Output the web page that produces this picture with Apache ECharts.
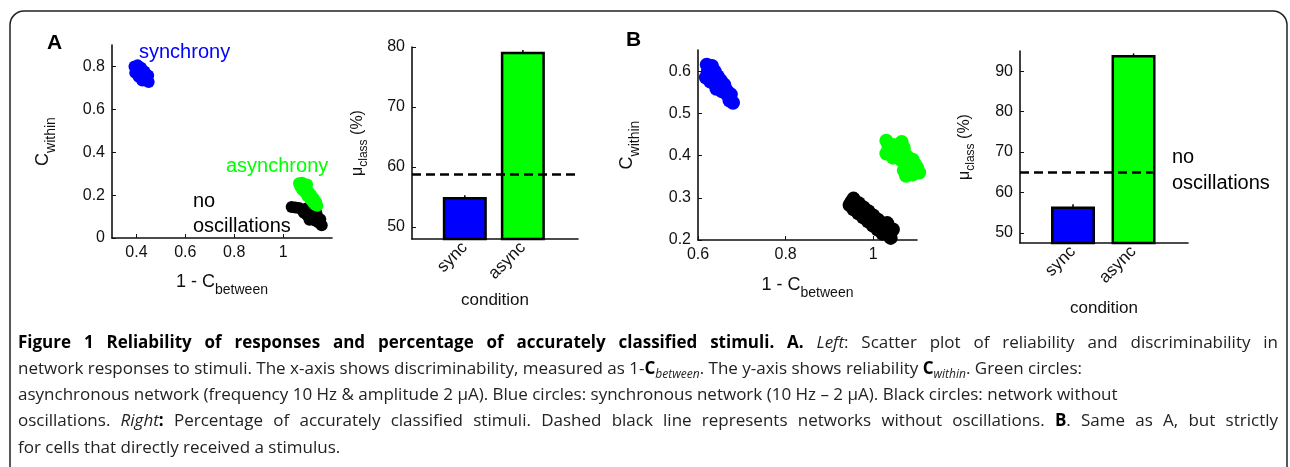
<!DOCTYPE html>
<html>
<head>
<meta charset="utf-8">
<script src="https://cdn.jsdelivr.net/npm/echarts@6/dist/echarts.min.js"></script>
<style>
  html, body { margin: 0; padding: 0; background: #fff; }
  #chart { width: 1290px; height: 467px; }
</style>
</head>
<body>
<div id="chart"></div>
<script>
// ---- data ----
// panel A scatter, points are [1 - C_between, C_within]
const syncA = [[0.392, 0.800], [0.405, 0.805], [0.400, 0.788], [0.407, 0.782], [0.419, 0.794],
  [0.395, 0.770], [0.421, 0.764], [0.433, 0.776], [0.409, 0.752], [0.436, 0.746],
  [0.448, 0.758], [0.424, 0.734], [0.450, 0.728], [0.415, 0.780], [0.430, 0.758]]
const asyncA = [[1.065, 0.255], [1.078, 0.258], [1.070, 0.240], [1.085, 0.245], [1.078, 0.225],
  [1.095, 0.230], [1.090, 0.212], [1.105, 0.215], [1.100, 0.195], [1.115, 0.200],
  [1.112, 0.180], [1.125, 0.185], [1.122, 0.165], [1.135, 0.168], [1.140, 0.150],
  [1.130, 0.155], [1.098, 0.250]]
const noOscA = [[1.035, 0.145], [1.050, 0.142], [1.065, 0.140], [1.078, 0.132], [1.085, 0.118],
  [1.095, 0.128], [1.100, 0.105], [1.110, 0.125], [1.115, 0.095], [1.125, 0.115],
  [1.130, 0.082], [1.140, 0.100], [1.145, 0.072], [1.152, 0.088], [1.158, 0.060],
  [1.120, 0.130], [1.135, 0.120], [1.095, 0.138], [1.108, 0.085]]

// panel B scatter
const syncB = [[0.620, 0.615], [0.632, 0.612], [0.622, 0.598], [0.638, 0.600], [0.618, 0.585],
  [0.630, 0.585], [0.645, 0.588], [0.652, 0.578], [0.638, 0.572], [0.648, 0.565],
  [0.660, 0.568], [0.655, 0.552], [0.665, 0.555], [0.668, 0.542], [0.675, 0.545],
  [0.672, 0.530], [0.680, 0.525], [0.628, 0.575], [0.642, 0.558]]
const asyncB = [[1.030, 0.435], [1.035, 0.420], [1.030, 0.405], [1.045, 0.410], [1.065, 0.432],
  [1.070, 0.418], [1.055, 0.395], [1.065, 0.388], [1.075, 0.400], [1.080, 0.380],
  [1.070, 0.365], [1.085, 0.360], [1.100, 0.372], [1.105, 0.360], [1.090, 0.390],
  [1.075, 0.352], [1.045, 0.425], [1.045, 0.395], [1.055, 0.410], [1.060, 0.400],
  [1.085, 0.375], [1.095, 0.380], [1.080, 0.395], [1.090, 0.355]]
const noOscB = [[0.950, 0.290], [0.955, 0.298], [0.946, 0.283], [0.961, 0.280], [0.967, 0.287],
  [0.955, 0.273], [0.972, 0.270], [0.978, 0.277], [0.966, 0.263], [0.983, 0.261],
  [0.989, 0.268], [0.977, 0.254], [0.994, 0.251], [1.000, 0.258], [0.988, 0.244],
  [1.005, 0.241], [1.011, 0.248], [0.999, 0.234], [1.016, 0.232], [1.022, 0.239],
  [1.010, 0.225], [1.027, 0.222], [1.033, 0.229], [1.021, 0.215], [1.038, 0.212],
  [1.040, 0.205], [1.045, 0.225], [1.032, 0.240]]

// bar panels: mu_class (%) per condition
const conditions = ['sync', 'async']
const barPos = [1, 2]
const accA = [55.0, 79.2]
const errA = [0.3, 0.3]
const accB = [56.5, 94.0]
const errB = [0.6, 0.4]
// dashed "no oscillations" level and how far it runs along the x axis
const noOscLevelA = 58.8
const noOscLevelB = 65.0
const noOscSpanA = [0.09, 2.95]
const noOscSpanB = [0.124, 2.39]

// tick values
const scatterXTicksA = [0.4, 0.6, 0.8, 1]
const scatterYTicksA = [0, 0.2, 0.4, 0.6, 0.8]
const scatterXTicksB = [0.6, 0.8, 1]
const scatterYTicksB = [0.2, 0.3, 0.4, 0.5, 0.6]
const barYTicksA = [50, 60, 70, 80]
const barYTicksB = [50, 60, 70, 80, 90]

// caption, as [style, text] runs; n normal, b bold, i italic, s italic subscript
const captionLines = [
  [['b', 'Figure 1 Reliability of responses and percentage of accurately classified stimuli. A.'], ['n', ' '],
    ['i', 'Left'], ['n', ': Scatter plot of reliability and discriminability in']],
  [['n', 'network responses to stimuli. The x-axis shows discriminability, measured as 1-'], ['b', 'C'], ['s', 'between'],
    ['n', '. The y-axis shows reliability '], ['b', 'C'], ['s', 'within'], ['n', '. Green circles:']],
  [['n', 'asynchronous network (frequency 10 Hz & amplitude 2 \u03bcA). Blue circles: synchronous network (10 Hz \u2013 2 \u03bcA). Black circles: network without']],
  [['n', 'oscillations. '], ['i', 'Right'], ['b', ':'],
    ['n', ' Percentage of accurately classified stimuli. Dashed black line represents networks without oscillations. '],
    ['b', 'B'], ['n', '. Same as A, but strictly']],
  [['n', 'for cells that directly received a stimulus.']]
]
const captionJustify = [true, false, false, true, false]

// ---- styling helpers ----
const FONT = 'Liberation Sans'
const CAP_FONT = 'Open Sans'
const INK = '#111'
const BLUE = '#0000ff'
const GREEN = '#00ff00'

const nameRich = {
  m: { fontSize: 18, lineHeight: 30, fontFamily: FONT, color: INK },
  s: { fontSize: 14, lineHeight: 14, verticalAlign: 'bottom', fontFamily: FONT, color: INK }
}
const muRich = {
  m: { fontSize: 16, lineHeight: 24, fontFamily: FONT, color: INK },
  s: { fontSize: 12, lineHeight: 12, verticalAlign: 'bottom', fontFamily: FONT, color: INK }
}

function axis(gridIndex, min, max, ticks, more) {
  const a = {
    type: 'value',
    gridIndex: gridIndex,
    min: min,
    max: max,
    axisLine: { show: true, onZero: false, lineStyle: { color: INK, width: 1.6 } },
    axisTick: { show: true, inside: true, length: 4, customValues: ticks, lineStyle: { color: INK, width: 1 } },
    axisLabel: { customValues: ticks, color: INK, fontSize: 16, fontFamily: FONT, margin: 7 },
    splitLine: { show: false }
  }
  return Object.assign(a, more || {})
}

function scatter(data, color, size, x, y) {
  return {
    type: 'scatter',
    xAxisIndex: x,
    yAxisIndex: y,
    data: data,
    symbolSize: size,
    clip: false,
    silent: true,
    itemStyle: { color: color, opacity: 1 }
  }
}

function bars(values, level, span, x, y) {
  return {
    type: 'bar',
    xAxisIndex: x,
    yAxisIndex: y,
    barWidth: 44,
    clip: true,
    silent: true,
    data: values.map((v, i) => ({
      value: [barPos[i], v],
      itemStyle: { color: i === 0 ? BLUE : GREEN, borderColor: '#000', borderWidth: 2.5 }
    })),
    markLine: {
      silent: true,
      symbol: ['none', 'none'],
      label: { show: false },
      lineStyle: { color: '#000', type: [9, 5], width: 2.5 },
      data: [[{ coord: [span[0], level] }, { coord: [span[1], level] }]]
    }
  }
}

function errorBars(values, errs, x, y) {
  return {
    type: 'custom',
    xAxisIndex: x,
    yAxisIndex: y,
    silent: true,
    z: 5,
    data: values.map((v, i) => [barPos[i], v - errs[i], v + errs[i]]),
    renderItem: function (params, api) {
      const lo = api.coord([api.value(0), api.value(1)])
      const hi = api.coord([api.value(0), api.value(2)])
      return {
        type: 'line',
        shape: { x1: lo[0], y1: lo[1], x2: hi[0], y2: hi[1] },
        style: { stroke: '#000', lineWidth: 1.5 }
      }
    }
  }
}

function barXAxis(gridIndex, min, max, gap) {
  return axis(gridIndex, min, max, barPos, {
    name: 'condition',
    nameLocation: 'middle',
    nameGap: gap,
    nameTextStyle: { fontSize: 17, fontFamily: FONT, color: INK },
    axisLabel: {
      customValues: barPos,
      formatter: v => conditions[Math.round(v) - 1] || '',
      rotate: 45,
      color: INK,
      fontSize: 17,
      fontFamily: FONT,
      margin: 6
    }
  })
}

function label(text, x, y, color, size, weight) {
  return {
    type: 'text',
    x: x,
    y: y,
    silent: true,
    style: {
      text: text,
      fill: color,
      fontSize: size,
      fontWeight: weight || 'normal',
      fontFamily: FONT,
      align: 'left',
      verticalAlign: 'middle'
    }
  }
}

// caption layout: words measured on a canvas so the justified lines fill the width
const CAP_SIZE = 17
const capStyles = {
  n: { fontSize: CAP_SIZE, fontStyle: 'normal', fontWeight: 'normal', fill: '#222', dy: 0 },
  b: { fontSize: CAP_SIZE, fontStyle: 'normal', fontWeight: 'bold', fill: '#000', dy: 0 },
  i: { fontSize: CAP_SIZE, fontStyle: 'italic', fontWeight: 'normal', fill: '#222', dy: 0 },
  s: { fontSize: 12, fontStyle: 'italic', fontWeight: 'normal', fill: '#222', dy: 5 }
}
const measureCtx = document.createElement('canvas').getContext('2d')
function textWidth(t, st) {
  measureCtx.font = st.fontStyle + ' ' + st.fontWeight + ' ' + st.fontSize + 'px "' + CAP_FONT + '"'
  return measureCtx.measureText(t).width
}

function captionGraphics(left, right, top, step) {
  const out = []
  const space = textWidth(' ', capStyles.n)
  captionLines.forEach((runs, li) => {
    const words = [[]]
    runs.forEach(([s, t]) => {
      t.split(' ').forEach((part, j) => {
        if (j > 0) words.push([])
        if (part !== '') words[words.length - 1].push({ s: s, t: part })
      })
    })
    const list = words.filter(w => w.length)
    const widths = list.map(w => w.reduce((acc, p) => acc + textWidth(p.t, capStyles[p.s]), 0))
    const total = widths.reduce((a, b) => a + b, 0)
    const gap = captionJustify[li] ? (right - left - total) / (list.length - 1) : space
    let x = left
    const y = top + li * step
    list.forEach((w, wi) => {
      let px = x
      w.forEach(p => {
        const st = capStyles[p.s]
        out.push({
          type: 'text',
          x: px,
          y: y + st.dy,
          silent: true,
          style: {
            text: p.t,
            fill: st.fill,
            fontSize: st.fontSize,
            fontStyle: st.fontStyle,
            fontWeight: st.fontWeight,
            fontFamily: CAP_FONT,
            align: 'left',
            verticalAlign: 'middle'
          }
        })
        px += textWidth(p.t, st)
      })
      x += widths[wi] + gap
    })
  })
  return out
}

const chart = echarts.init(document.getElementById('chart'))

chart.setOption({
  animation: false,
  backgroundColor: '#fff',
  textStyle: { fontFamily: FONT },
  grid: [
    { left: 112, top: 45, width: 220, height: 193 },
    { left: 412, top: 47, width: 166, height: 192 },
    { left: 698, top: 50, width: 219, height: 190 },
    { left: 1020, top: 51, width: 168, height: 192 }
  ],
  xAxis: [
    axis(0, 0.3, 1.2, scatterXTicksA, {
      name: '{m|1 - C}{s|between}', nameLocation: 'middle', nameGap: 29,
      nameTextStyle: { rich: nameRich }
    }),
    barXAxis(1, 0.09, 2.95, 53),
    axis(2, 0.6, 1.1, scatterXTicksB, {
      name: '{m|1 - C}{s|between}', nameLocation: 'middle', nameGap: 30,
      nameTextStyle: { rich: nameRich }
    }),
    barXAxis(3, 0.124, 2.9, 57)
  ],
  yAxis: [
    axis(0, 0, 0.9, scatterYTicksA, {
      name: '{m|C}{s|within}', nameLocation: 'middle', nameRotate: 90, nameGap: 54,
      nameTextStyle: { rich: nameRich }
    }),
    axis(1, 48, 80, barYTicksA, {
      name: '{m|\u03bc}{s|class}{m| (%)}', nameLocation: 'middle', nameRotate: 90, nameGap: 42,
      nameTextStyle: { rich: muRich }
    }),
    axis(2, 0.2, 0.65, scatterYTicksB, {
      name: '{m|C}{s|within}', nameLocation: 'middle', nameRotate: 90, nameGap: 56,
      nameTextStyle: { rich: nameRich }
    }),
    axis(3, 47.5, 95, barYTicksB, {
      name: '{m|\u03bc}{s|class}{m| (%)}', nameLocation: 'middle', nameRotate: 90, nameGap: 43,
      nameTextStyle: { rich: muRich }
    })
  ],
  series: [
    scatter(syncA, BLUE, 12, 0, 0),
    scatter(noOscA, '#000', 12, 0, 0),
    scatter(asyncA, GREEN, 12, 0, 0),
    bars(accA, noOscLevelA, noOscSpanA, 1, 1),
    errorBars(accA, errA, 1, 1),
    scatter(syncB, BLUE, 14, 2, 2),
    scatter(noOscB, '#000', 14, 2, 2),
    scatter(asyncB, GREEN, 14, 2, 2),
    bars(accB, noOscLevelB, noOscSpanB, 3, 3),
    errorBars(accB, errB, 3, 3)
  ],
  graphic: [
    {
      type: 'rect',
      silent: true,
      shape: { x: 10, y: 11, width: 1277, height: 520, r: 14 },
      style: { fill: 'none', stroke: '#222', lineWidth: 1.5 }
    },
    label('A', 47, 43, '#000', 21, 'bold'),
    label('B', 626, 40, '#000', 21, 'bold'),
    label('synchrony', 139, 52, BLUE, 20),
    label('asynchrony', 226, 166, GREEN, 20),
    label('no', 193, 201, '#000', 20),
    label('oscillations', 193, 226, '#000', 20),
    label('no', 1172, 157, '#000', 20),
    label('oscillations', 1172, 183, '#000', 20)
  ].concat(captionGraphics(18, 1278, 343, 26.2))
})
</script>
</body>
</html>
